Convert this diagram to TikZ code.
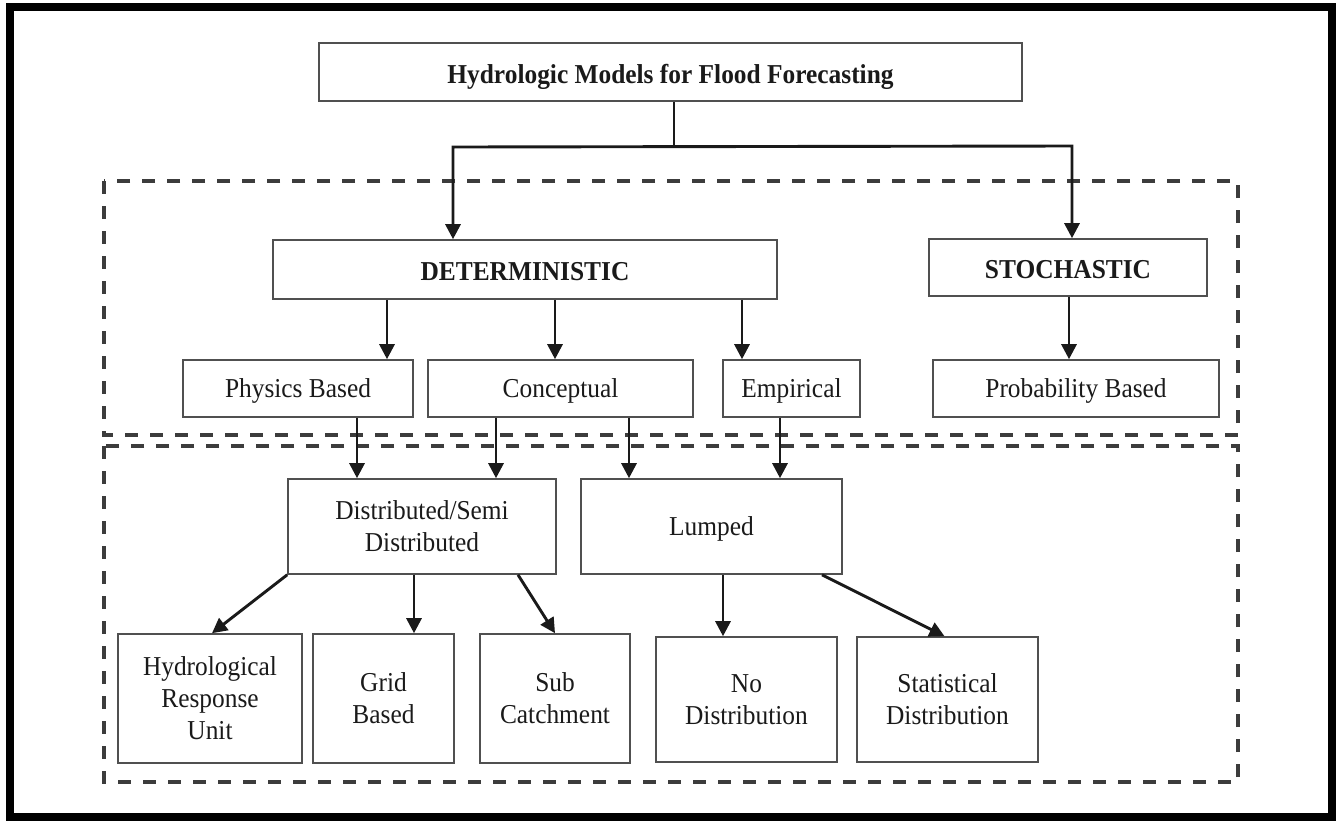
\documentclass[tikz,border=0pt]{standalone}
\usepackage{fontspec}
\setmainfont{Liberation Serif}[FakeStretch=0.93]
\usetikzlibrary{arrows.meta}
\definecolor{boxgray}{HTML}{505050}
\definecolor{ink}{HTML}{1A1A1A}
\tikzset{
  box/.style={draw=boxgray, line width=1.6pt, rectangle, inner sep=0pt, align=center,
    text=ink, text depth=0pt, font=\fontsize{27.3}{32}\selectfont},
  boldbox/.style={box, font=\fontsize{27.3}{32}\selectfont\bfseries, text height=22pt},
  conn/.style={draw=ink, line width=2.9pt},
  tip/.tip={Triangle[length=15pt,width=15pt]},
  arrow/.style={conn, -tip},
  dashbox/.style={draw=ink!85, line width=3.5pt, dash pattern=on 13pt off 12pt},
  frame/.style={draw=black, line width=8pt}
}
\begin{document}
\begin{tikzpicture}[x=1pt,y=-1pt]
\useasboundingbox (0,0) rectangle (1341,823);
\fill[white] (0,0) rectangle (1341,823);
\draw[frame] (10,7) rectangle (1332,817);

% dashed regions
\draw[dashbox] (104,181) rectangle (1238,435);
\draw[dashbox] (104,446) rectangle (1238,782);

% nodes
\node[boldbox, minimum width=703pt, minimum height=58pt] (top) at (670.5,72) {Hydrologic Models for Flood Forecasting};
\node[boldbox, minimum width=504pt, minimum height=59pt] (det) at (525,269.5) {DETERMINISTIC};
\node[boldbox, minimum width=278pt, minimum height=57pt] (sto) at (1068,267.5) {STOCHASTIC};
\node[box, minimum width=230pt, minimum height=57pt] (phys) at (298,388.5) {Physics Based};
\node[box, minimum width=265pt, minimum height=57pt] (conc) at (560.5,388.5) {Conceptual};
\node[box, minimum width=137pt, minimum height=57pt] (emp) at (791.5,388.5) {Empirical};
\node[box, minimum width=286pt, minimum height=57pt] (prob) at (1076,388.5) {Probability Based};
\node[box, minimum width=268pt, minimum height=95pt] (dist) at (422,526.5) {Distributed/Semi\\Distributed};
\node[box, minimum width=261pt, minimum height=95pt] (lump) at (711.5,526.5) {Lumped};
\node[box, minimum width=184pt, minimum height=129pt] (hru) at (210,698.5) {Hydrological\\Response\\Unit};
\node[box, minimum width=141pt, minimum height=129pt] (grid) at (383.5,698.5) {Grid\\Based};
\node[box, minimum width=150pt, minimum height=129pt] (subc) at (555,698.5) {Sub\\Catchment};
\node[box, minimum width=181pt, minimum height=125pt] (nod) at (746.5,699.5) {No\\Distribution};
\node[box, minimum width=181pt, minimum height=125pt] (stat) at (947.5,699.5) {Statistical\\Distribution};

% helper coordinates for connector positions
\coordinate (j) at (674,147);
\coordinate (jl) at (453,147);
\coordinate (jr) at (1072,146);
\coordinate (a1) at (387,0);
\coordinate (a2) at (555,0);
\coordinate (a3) at (742,0);
\coordinate (a4) at (1069,0);
\coordinate (b1) at (357,0);
\coordinate (b2) at (496,0);
\coordinate (b3) at (629,0);
\coordinate (b4) at (780,0);
\coordinate (c1) at (414,0);
\coordinate (c2) at (518,0);
\coordinate (c3) at (723,0);
\coordinate (c4) at (822,0);

% top split
\draw[conn] (top.south -| j) -- (j);
\draw[conn, tip-tip, line join=miter]
  (jl |- det.north) -- (jl) -- (jr) -- (jr |- sto.north);

% deterministic / stochastic children
\draw[arrow] (a1 |- det.south) -- (a1 |- phys.north);
\draw[arrow] (a2 |- det.south) -- (a2 |- conc.north);
\draw[arrow] (a3 |- det.south) -- (a3 |- emp.north);
\draw[arrow] (a4 |- sto.south) -- (a4 |- prob.north);

% to distributed / lumped
\draw[arrow] (b1 |- phys.south) -- (b1 |- dist.north);
\draw[arrow] (b2 |- conc.south) -- (b2 |- dist.north);
\draw[arrow] (b3 |- conc.south) -- (b3 |- lump.north);
\draw[arrow] (b4 |- emp.south) -- (b4 |- lump.north);

% bottom level
\draw[arrow] (dist.south west) -- ([xshift=2pt]hru.north);
\draw[arrow] (c1 |- dist.south) -- (c1 |- grid.north);
\draw[arrow] (c2 |- dist.south) -- (subc.north);
\draw[arrow] (c3 |- lump.south) -- (c3 |- nod.north);
\draw[arrow] (c4 |- lump.south) -- ([xshift=-3pt]stat.north);
\end{tikzpicture}
\end{document}
